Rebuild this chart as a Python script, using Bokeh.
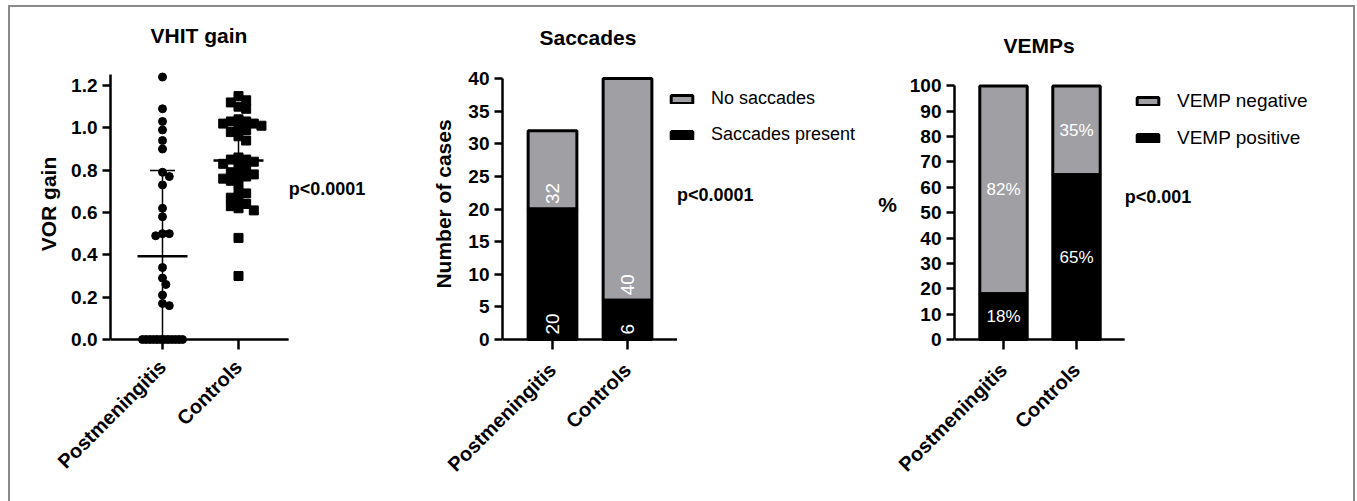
import numpy as np
from bokeh.core.properties import value
from bokeh.embed import file_html
from bokeh.layouts import row
from bokeh.models import (ColumnDataSource, FixedTicker, Label, Legend, LegendItem,
                          NumeralTickFormatter, Range1d)
from bokeh.plotting import figure
from bokeh.resources import INLINE

FONT = "Liberation Sans"
GREY = "#a0a0a4"

# ---------------------------------------------------------------- data
groups = ["Postmeningitis", "Controls"]

vor_postmeningitis = [1.24, 1.09, 1.03, 0.99, 0.94, 0.90, 0.79, 0.77, 0.73, 0.62,
                      0.58, 0.50, 0.50, 0.49, 0.34, 0.29, 0.26, 0.21, 0.17, 0.16,
                      0.0, 0.0, 0.0, 0.0, 0.0, 0.0, 0.0, 0.0, 0.0, 0.0, 0.0, 0.0]
vor_controls = [1.15, 1.13, 1.12, 1.10, 1.09, 1.04, 1.03, 1.03, 1.02, 1.02,
                1.01, 1.00, 0.99, 0.98, 0.96, 0.94, 0.86, 0.85, 0.85, 0.84,
                0.83, 0.82, 0.81, 0.79, 0.78, 0.78, 0.77, 0.76, 0.75, 0.74,
                0.70, 0.69, 0.67, 0.66, 0.64, 0.63, 0.62, 0.61, 0.48, 0.30]
vhit_p = "p<0.0001"

saccades_present = [20, 6]
saccades_total = [32, 40]
saccades_p = "p<0.0001"

vemp_positive = [18, 65]
vemp_negative = [82, 35]
vemp_p = "p<0.001"

# ---------------------------------------------------------------- layout constants
AXIS_END = 1.66      # right end of each x axis, in category units
BAR_W = 0.65
FIG_H = 494
TOP, BOTTOM = 53, 154          # shared by all panels so the frames line up
FRAME_H = FIG_H - TOP - BOTTOM
ZERO_PX = 8                    # x axis line sits this far above the frame bottom


def y_range_for(px_per_unit):
    start = -ZERO_PX / px_per_unit
    return Range1d(start, start + FRAME_H / px_per_unit)


def base_figure(width, left, right, x_range, y_range, title, title_offset,
                title_standoff, label_standoff):
    p = figure(width=width, height=FIG_H, x_range=x_range, y_range=y_range,
               output_backend="svg", toolbar_location=None,
               min_border_top=TOP, min_border_right=right,
               min_border_bottom=BOTTOM, min_border_left=left)
    p.grid.visible = False
    p.outline_line_color = None
    p.title.text = title
    p.title.align = "left"
    p.title.offset = title_offset
    p.title.standoff = title_standoff
    p.title.text_font = FONT
    p.title.text_font_size = "21px"
    p.title.text_font_style = "bold"
    p.title.text_color = "black"
    for ax in (p.xaxis[0], p.yaxis[0]):
        ax.axis_line_width = 2.5
        ax.axis_line_color = "black"
        ax.major_tick_line_width = 2.5
        ax.major_tick_line_color = "black"
        ax.minor_tick_line_color = None
        ax.major_tick_in = 0
        ax.major_label_text_font = FONT
        ax.major_label_text_font_style = "bold"
        ax.major_label_text_color = "black"
        ax.axis_label_text_font = FONT
        ax.axis_label_text_font_style = "bold"
        ax.axis_label_text_font_size = "21px"
        ax.axis_label_text_color = "black"
    p.yaxis.major_label_text_font_size = "19px"
    p.yaxis.major_tick_out = 8
    # the x axis line is drawn at y = 0; the axis itself only carries ticks and labels
    p.xaxis.axis_line_color = None
    p.xaxis.major_tick_in = ZERO_PX
    p.xaxis.major_tick_out = 2
    p.xaxis.major_label_text_font_size = "20px"
    p.xaxis.major_label_standoff = label_standoff
    p.xaxis.ticker = FixedTicker(ticks=[0, 1])
    p.xaxis.major_label_overrides = {0: groups[0], 1: groups[1]}
    p.xaxis.major_label_orientation = np.pi / 4
    p.segment(x0=[x_range.start], y0=[0], x1=[AXIS_END], y1=[0],
              line_color="black", line_width=2.5)
    return p


def add_pvalue(p, text, y):
    p.add_layout(Label(x=AXIS_END, y=y, text=text, text_align="left",
                       text_baseline="middle", text_font=FONT,
                       text_font_size="18px", text_font_style="bold",
                       text_color="black"))


def style_legend(leg):
    leg.border_line_color = None
    leg.background_fill_alpha = 0
    leg.padding = 0
    leg.margin = 0
    leg.spacing = 15
    leg.glyph_width = 27
    leg.glyph_height = 10
    leg.label_standoff = 16
    leg.label_height = 21
    leg.label_text_font = FONT
    leg.label_text_font_size = "18px"
    leg.label_text_color = "black"


def swarm_offsets(vals, diam, px_per_unit, tie_half):
    """Horizontal pixel offsets so that markers of one column do not pile up."""
    vals = np.asarray(vals, float)
    off = np.zeros(len(vals))
    placed = []
    done = set()
    uniq, counts = np.unique(vals, return_counts=True)
    for u, c in zip(uniq, counts):
        if c >= 4:
            idx = np.where(vals == u)[0]
            off[idx] = np.linspace(-tie_half, tie_half, c)
            for i in idx:
                placed.append((off[i], vals[i] * px_per_unit))
                done.add(i)
    step = diam * 0.5
    for i in np.argsort(-vals, kind="stable"):
        if i in done:
            continue
        y = vals[i] * px_per_unit
        k, found = 0, None
        while found is None:
            for s in ([0.0] if k == 0 else [k * step, -k * step]):
                if all((s - px) ** 2 + (y - py) ** 2 >= diam ** 2 for px, py in placed):
                    found = s
                    break
            k += 1
        off[i] = found
        placed.append((found, y))
    return off


# ---------------------------------------------------------------- VHIT gain
PX1, PPU1 = 76.0, 211.67
x1 = Range1d(-52 / PX1, -52 / PX1 + 300 / PX1)
p1 = base_figure(410, 100, 10, x1, y_range_for(PPU1), "VHIT gain", 40, 27, 14)
p1.yaxis.ticker = FixedTicker(ticks=[0, 0.2, 0.4, 0.6, 0.8, 1.0, 1.2])
p1.yaxis.formatter = NumeralTickFormatter(format="0.0")
p1.yaxis.bounds = (0, 1.25)
p1.yaxis.axis_label = "VOR gain"
p1.yaxis.axis_label_standoff = 8

for gi, (vals, marker, size) in enumerate([(vor_postmeningitis, "circle", 8),
                                           (vor_controls, "square", 9)]):
    off = swarm_offsets(vals, size * 0.85, PPU1, 20)
    src = ColumnDataSource(dict(x=gi + off / PX1, y=vals))
    p1.scatter("x", "y", source=src, marker=marker, size=size,
               fill_color="black", line_color="black")
    m = float(np.mean(vals))
    sd = float(np.std(vals, ddof=1))
    hi, lo = m + sd, max(m - sd, 0.0)
    half_mean, half_cap = 25 / PX1, 12.5 / PX1
    p1.segment(x0=[gi - half_mean], y0=[m], x1=[gi + half_mean], y1=[m],
               line_color="black", line_width=2.5)
    p1.segment(x0=[gi, gi - half_cap, gi - half_cap], y0=[lo, hi, lo],
               x1=[gi, gi + half_cap, gi + half_cap], y1=[hi, hi, lo],
               line_color="black", line_width=1.5)

add_pvalue(p1, vhit_p, 0.71)

# ---------------------------------------------------------------- Saccades
PX2, PPU2 = 75.0, 6.525
x2 = Range1d(-50 / PX2, -50 / PX2 + 363 / PX2)
p2 = base_figure(455, 82, 10, x2, y_range_for(PPU2), "Saccades", 37, 23, 17)
p2.yaxis.ticker = FixedTicker(ticks=list(range(0, 41, 5)))
p2.yaxis.bounds = (0, 40)
p2.yaxis.axis_label = "Number of cases"
p2.yaxis.axis_label_standoff = 10

src2 = ColumnDataSource(dict(x=[0, 1], present=saccades_present, total=saccades_total,
                             present_txt=[str(v) for v in saccades_present],
                             total_txt=[str(v) for v in saccades_total]))
r2_grey = p2.vbar(x="x", bottom="present", top="total", width=BAR_W, source=src2,
                  fill_color=GREY, line_color="black", line_width=3)
r2_black = p2.vbar(x="x", bottom=0, top="present", width=BAR_W, source=src2,
                   fill_color="black", line_color="black", line_width=3)
for ycol, tcol in ((0, "present_txt"), ("present", "total_txt")):
    p2.text(x="x", y=ycol, text=tcol, source=src2, angle=np.pi / 2,
            text_align="left", text_baseline="middle", text_color="white",
            text_font=value(FONT), text_font_size="19px", y_offset=-5)

leg2 = Legend(items=[LegendItem(label="No saccades", renderers=[r2_grey]),
                     LegendItem(label="Saccades present", renderers=[r2_black])],
              location=(166, 202))
style_legend(leg2)
p2.add_layout(leg2)

add_pvalue(p2, saccades_p, 22.2)

# ---------------------------------------------------------------- VEMPs
PX3, PPU3 = 73.0, 2.536
x3 = Range1d(-49 / PX3, -49 / PX3 + 389 / PX3)
p3 = base_figure(478, 79, 10, x3, y_range_for(PPU3), "VEMPs", 49, 7, 17)
p3.yaxis.ticker = FixedTicker(ticks=list(range(0, 101, 10)))
p3.yaxis.bounds = (0, 100)
p3.yaxis.axis_label = "%"
p3.yaxis.axis_label_orientation = "horizontal"
p3.yaxis.axis_label_text_baseline = "top"
p3.yaxis.axis_label_standoff = 10

pos = np.array(vemp_positive, float)
neg = np.array(vemp_negative, float)
src3 = ColumnDataSource(dict(x=[0, 1], pos=pos, top=pos + neg,
                             pos_mid=pos / 2, neg_mid=pos + neg / 2,
                             pos_txt=[f"{v}%" for v in vemp_positive],
                             neg_txt=[f"{v}%" for v in vemp_negative]))
r3_grey = p3.vbar(x="x", bottom="pos", top="top", width=BAR_W, source=src3,
                  fill_color=GREY, line_color="black", line_width=3)
r3_black = p3.vbar(x="x", bottom=0, top="pos", width=BAR_W, source=src3,
                   fill_color="black", line_color="black", line_width=3)
for ycol, tcol in (("pos_mid", "pos_txt"), ("neg_mid", "neg_txt")):
    p3.text(x="x", y=ycol, text=tcol, source=src3, text_align="center",
            text_baseline="middle", text_color="white",
            text_font=value(FONT), text_font_size="17px")

leg3 = Legend(items=[LegendItem(label="VEMP negative", renderers=[r3_grey]),
                     LegendItem(label="VEMP positive", renderers=[r3_black])],
              location=(180, 198))
style_legend(leg3)
leg3.label_text_font_size = "19px"
p3.add_layout(leg3)

add_pvalue(p3, vemp_p, 56.0)

# ---------------------------------------------------------------- page
BORDER = "2px solid #8a8a8a"
layout = row(p1, p2, p3, margin=(5, 0, 0, 8),
             styles={"border-top": BORDER, "border-left": BORDER, "border-right": BORDER})

open("out.html", "w").write(file_html(layout, INLINE))
